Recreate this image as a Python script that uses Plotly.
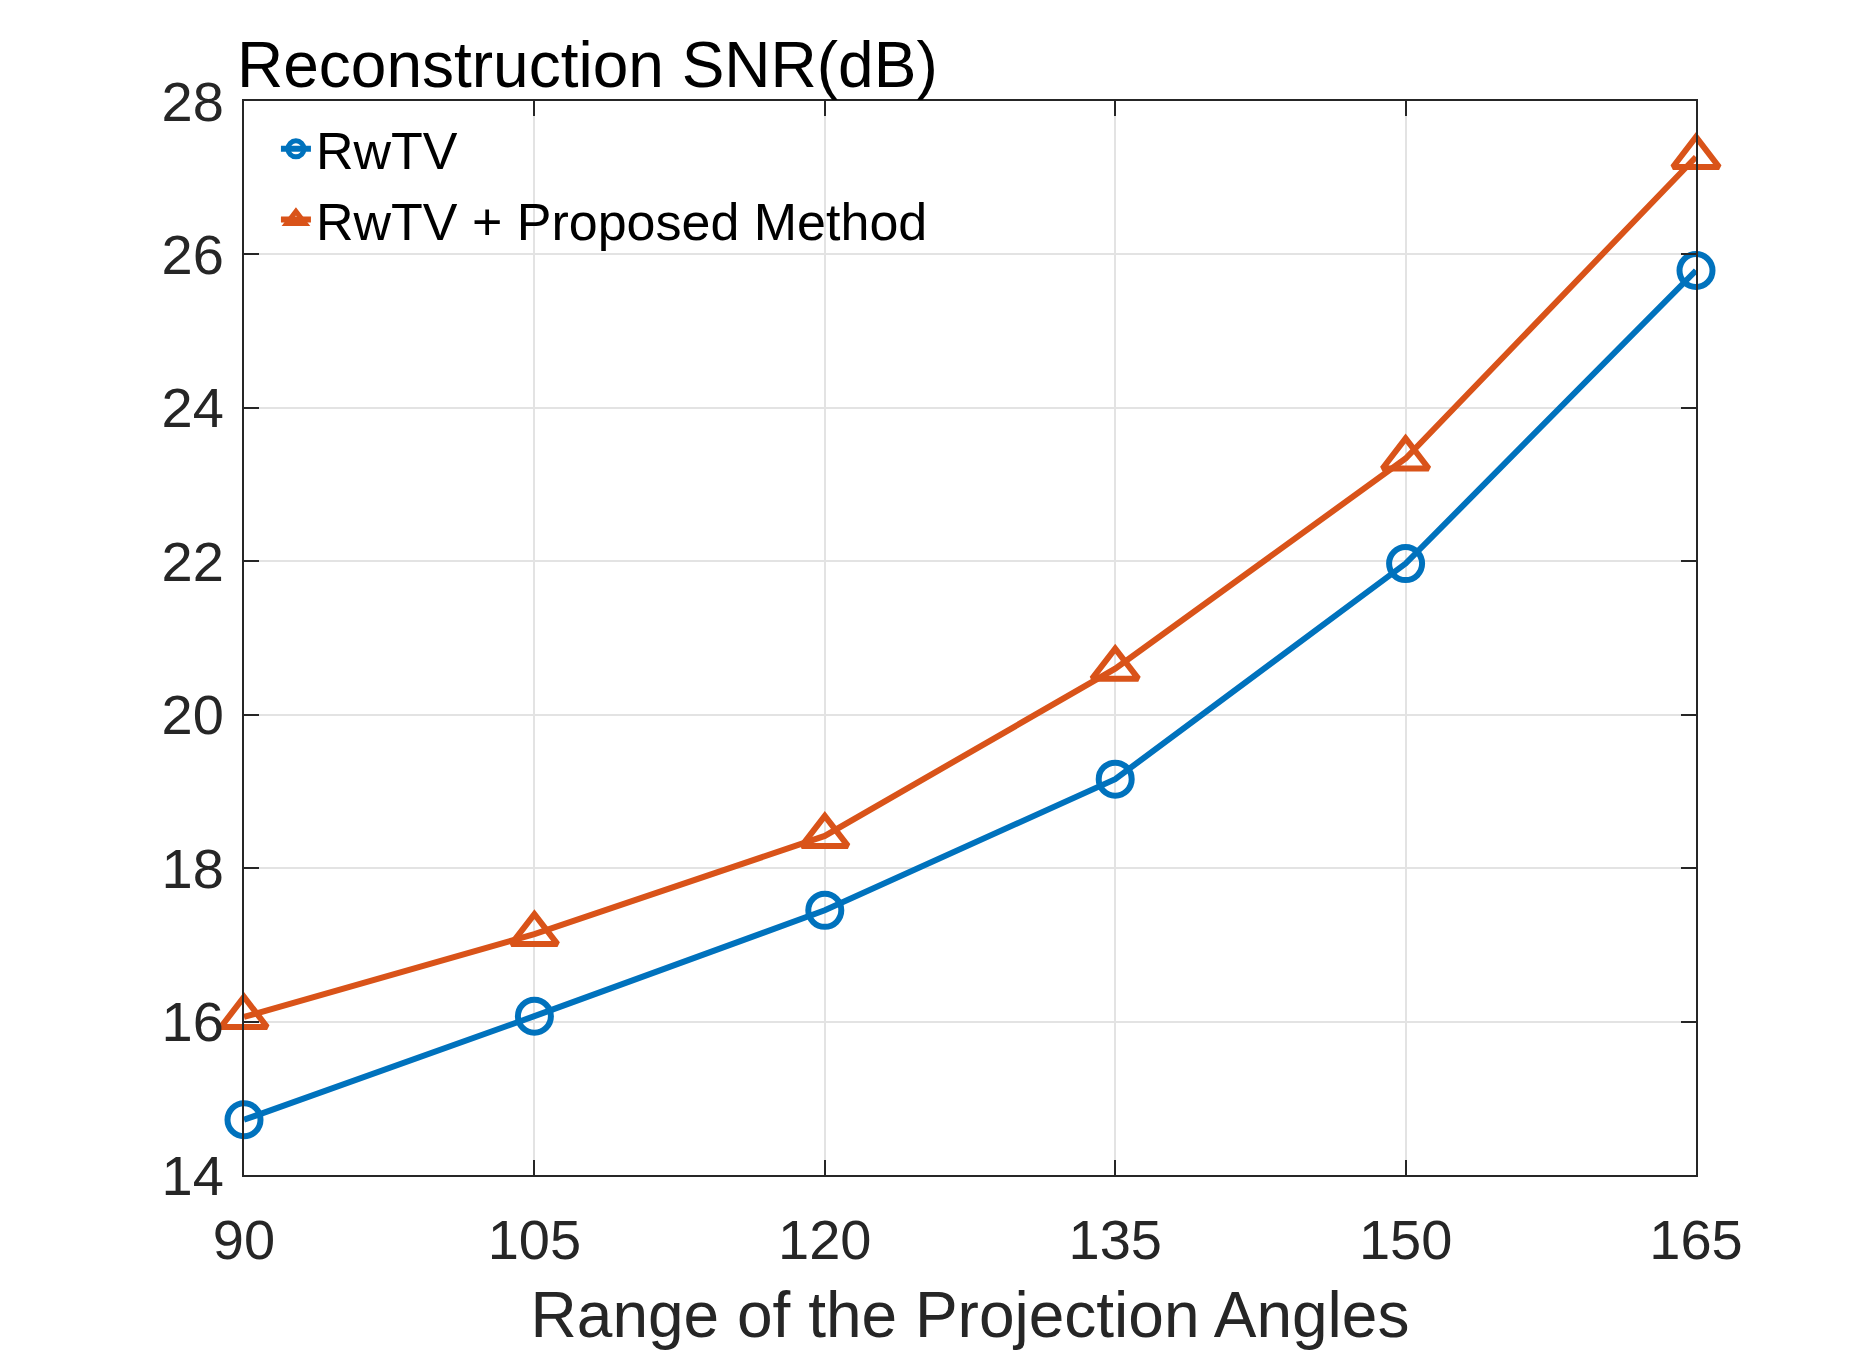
import plotly.graph_objects as go

angles = [90, 105, 120, 135, 150, 165]
rwtv = [14.72, 16.07, 17.45, 19.16, 21.97, 25.79]
proposed = [16.06, 17.14, 18.42, 20.60, 23.34, 27.27]
x_ticks = [90, 105, 120, 135, 150, 165]
y_ticks = [14, 16, 18, 20, 22, 24, 26, 28]

blue = "#0072BD"
orange = "#D95319"
axis_col = "#262626"
FONT = "Liberation Sans, Arial, sans-serif"

fig = go.Figure()
fig.add_trace(go.Scatter(
    x=angles, y=rwtv, mode="lines+markers", name="RwTV",
    line=dict(color=blue, width=6),
    marker=dict(symbol="circle-open", size=33, color=blue, line=dict(width=6, color=blue)),
    cliponaxis=False,
))
fig.add_trace(go.Scatter(
    x=angles, y=proposed, mode="lines+markers", name="RwTV + Proposed Method",
    line=dict(color=orange, width=6),
    marker=dict(symbol="triangle-up-open", size=40, color=orange, line=dict(width=6, color=orange)),
    cliponaxis=False,
))

axis_common = dict(
    showline=True, linecolor=axis_col, linewidth=2, mirror="ticks",
    ticks="inside", ticklen=15, tickwidth=2, tickcolor=axis_col,
    showgrid=True, gridcolor="#e3e3e3", gridwidth=1.5,
    zeroline=False,
    tickfont=dict(family=FONT, size=56, color=axis_col),
)

fig.update_layout(
    width=1875, height=1351,
    margin=dict(l=244, r=179, t=101, b=168),
    paper_bgcolor="white", plot_bgcolor="white",
    font=dict(family=FONT, color=axis_col),
    showlegend=True,
    legend=dict(
        x=0.022, y=0.993, xanchor="left", yanchor="top",
        bgcolor="rgba(0,0,0,0)", borderwidth=0,
        font=dict(family=FONT, size=52, color="black"),
        itemsizing="trace",
    ),
    xaxis=dict(
        range=[90, 165], tickmode="array", tickvals=x_ticks,
        ticktext=[str(v) for v in x_ticks],
        ticklabelstandoff=15,
        title=dict(text="Range of the Projection Angles",
                   font=dict(family=FONT, size=64, color=axis_col), standoff=23),
        **axis_common,
    ),
    yaxis=dict(
        range=[14, 28], tickmode="array", tickvals=y_ticks,
        ticktext=[str(v) for v in y_ticks],
        ticklabelstandoff=7,
        **axis_common,
    ),
    annotations=[dict(
        text="Reconstruction SNR(dB)", xref="paper", yref="paper",
        x=-0.006, y=1.0, xanchor="left", yanchor="bottom", yshift=-2,
        showarrow=False, font=dict(family=FONT, size=64, color="black"),
    )],
)

fig.write_html("out.html", config={"displayModeBar": False},
               post_script="document.body.style.margin='0';")
